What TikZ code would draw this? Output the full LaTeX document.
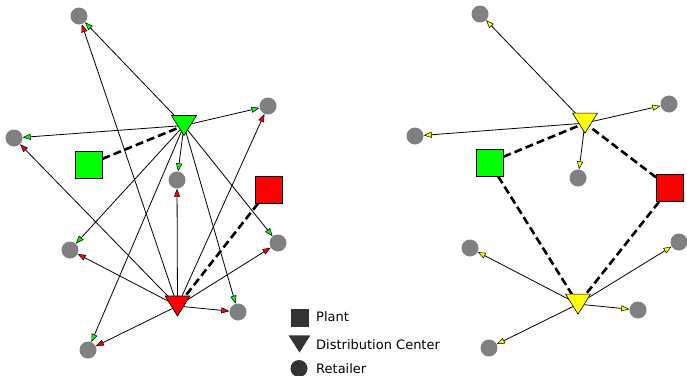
\documentclass[tikz,border=0pt]{standalone}
\usepackage{fontspec}
\setmainfont{DejaVu Sans}
\usetikzlibrary{arrows.meta,shapes.geometric}
\pgfdeclarelayer{background}
\pgfsetlayers{background,main}

\definecolor{lime}{HTML}{00FF00}
\definecolor{pred}{HTML}{FF0000}
\definecolor{pyel}{HTML}{FFFF00}
\definecolor{rgray}{HTML}{808080}
\definecolor{legdark}{HTML}{333333}

\tikzset{
  x=1pt, y=-1pt,
  retailer/.style={circle, fill=rgray, minimum size=17pt, inner sep=0pt},
  dcnode/.style={regular polygon, regular polygon sides=3, shape border rotate=180,
                 minimum size=26.7pt, inner sep=0pt, xscale=1.08, draw=black, line width=0.6pt, fill=#1},
  plantbox/.style={rectangle, minimum size=27pt, inner sep=0pt, draw=black, line width=0.8pt, fill=#1},
  ship/.style={line width=0.8pt, -{Triangle[length=8pt,width=6pt,fill=#1,line width=0.5pt]}},
  supply/.style={line width=2.6pt, dash pattern=on 8pt off 4pt},
  legtext/.style={anchor=west, inner sep=0pt, font=\fontsize{13}{15}\selectfont}
}
% hub point of a centre: middle of the triangle's bounding box
\newcommand{\hubof}[1]{([yshift=-3.3pt]#1.center)}

\begin{document}
\begin{tikzpicture}
\useasboundingbox (0,0) rectangle (687,375);

% ---------- left network: two distribution centres serving all retailers ----------
\node[retailer] (a1) at (79,16) {};
\node[retailer] (a2) at (268,106) {};
\node[retailer] (a3) at (14,138) {};
\node[retailer] (a4) at (177,180) {};
\node[retailer] (a5) at (70,250) {};
\node[retailer] (a6) at (278,243) {};
\node[retailer] (a7) at (238,312) {};
\node[retailer] (a8) at (88,350) {};

\node[plantbox=lime] (ap1) at (88.5,164.5) {};
\node[plantbox=pred] (ap2) at (269,189.5) {};

\node[dcnode=lime] (ad1) at (184,122.2) {};
\node[dcnode=pred] (ad2) at (177.5,302.7) {};

\begin{pgfonlayer}{background}
  \foreach \r in {a1,a2,a3,a4,a5,a6,a7,a8}{
    \draw[ship=lime] \hubof{ad1} -- (\r);
    \draw[ship=pred] \hubof{ad2} -- (\r);
  }
  \draw[supply] (ap1) -- \hubof{ad1};
  \draw[supply] (ap2) -- \hubof{ad2};
\end{pgfonlayer}

% ---------- right network: each retailer served by one centre ----------
\node[retailer] (b1) at (480,14) {};
\node[retailer] (b2) at (669,104) {};
\node[retailer] (b3) at (415,136) {};
\node[retailer] (b4) at (578,178) {};
\node[retailer] (b5) at (470,248) {};
\node[retailer] (b6) at (679,242) {};
\node[retailer] (b7) at (638,310) {};
\node[retailer] (b8) at (489,348) {};

\node[plantbox=lime] (bp1) at (489.5,162.5) {};
\node[plantbox=pred] (bp2) at (670,188) {};

\node[dcnode=pyel] (bd1) at (585,119.8) {};
\node[dcnode=pyel] (bd2) at (578,300.8) {};

\begin{pgfonlayer}{background}
  \foreach \r in {b1,b2,b3,b4}{
    \draw[ship=pyel] \hubof{bd1} -- (\r);
  }
  \foreach \r in {b5,b6,b7,b8}{
    \draw[ship=pyel] \hubof{bd2} -- (\r);
  }
  \draw[supply] (bp1) -- \hubof{bd1};
  \draw[supply] (bp1) -- \hubof{bd2};
  \draw[supply] (bp2) -- \hubof{bd1};
  \draw[supply] (bp2) -- \hubof{bd2};
\end{pgfonlayer}

% ---------- legend ----------
\node[rectangle, fill=legdark, minimum size=18pt, inner sep=0pt] (lg1) at (299.5,317.5) {};
\node[regular polygon, regular polygon sides=3, shape border rotate=180,
      minimum size=23pt, inner sep=0pt, xscale=1.1, fill=legdark] (lg2) at (299.5,341) {};
\node[circle, fill=legdark, minimum size=17pt, inner sep=0pt] (lg3) at (299,368.5) {};
\node[legtext] (lt1) at (316,317) {Plant};
\node[legtext] (lt2) at (316,344.5) {Distribution Center};
\node[legtext] (lt3) at (316,368.5) {Retailer};
\end{tikzpicture}
\end{document}
